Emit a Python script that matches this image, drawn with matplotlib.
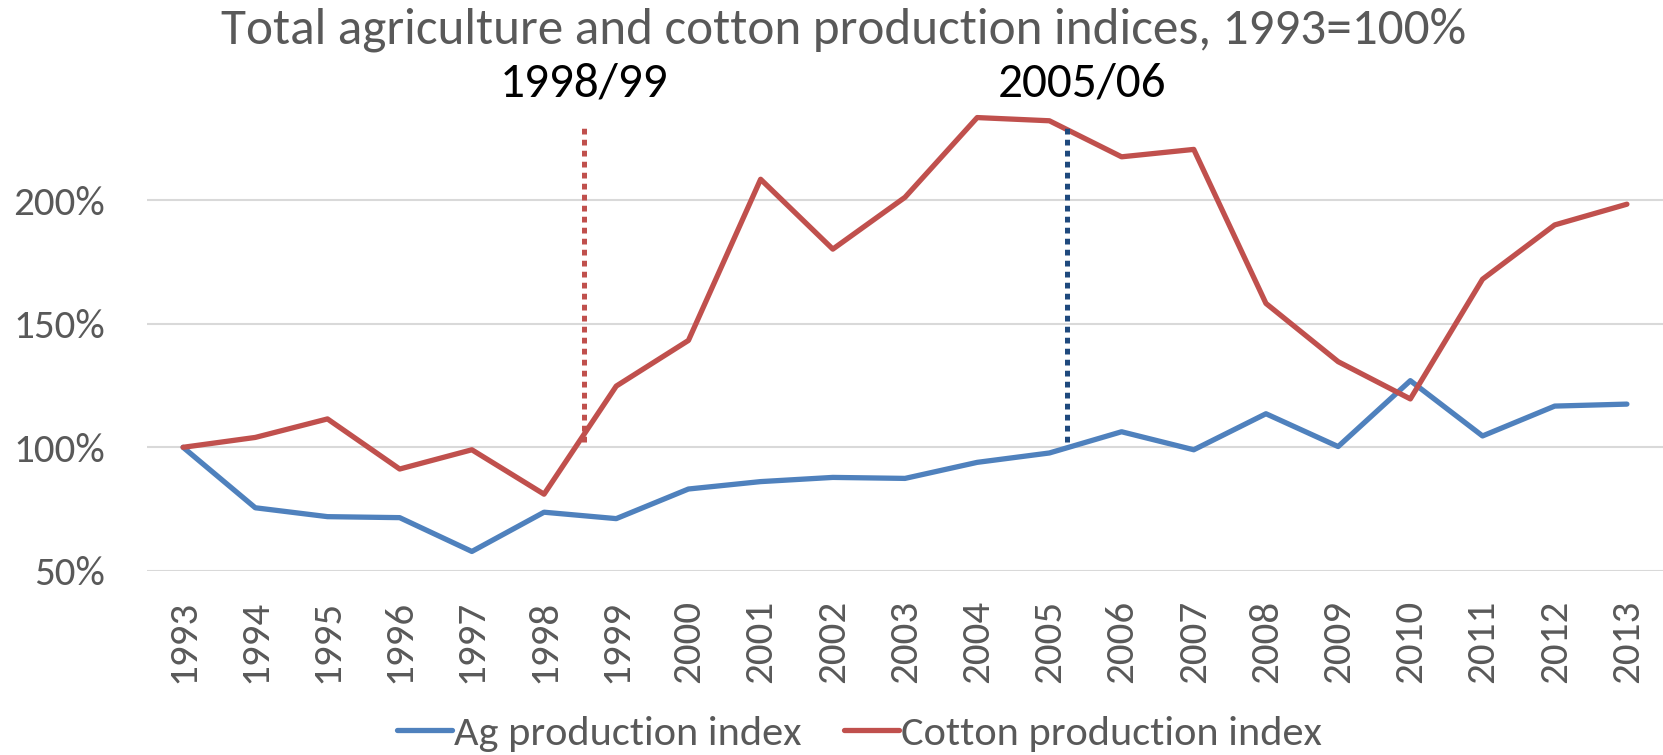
"""
Total agriculture and cotton production indices, 1993 = 100%.
Line chart with two dotted markers for the 1998/99 and 2005/06 breaks.
"""

import matplotlib
matplotlib.use('Agg')
import matplotlib.pyplot as plt
import numpy as np

plt.rcParams['font.family'] = ['Carlito', 'Liberation Sans Narrow', 'DejaVu Sans']

# ---------------------------------------------------------------------
# Data (% of 1993)
# ---------------------------------------------------------------------
years = [str(y) for y in range(1993, 2014)]

ag_index = [100.0, 75.5, 71.9, 71.5, 57.8, 73.7, 71.1, 83.1, 86.1, 87.8, 87.4,
            93.9, 97.7, 106.3, 99.0, 113.6, 100.3, 127.0, 104.6, 116.7, 117.5]

cotton_index = [100.0, 104.0, 111.5, 91.2, 99.0, 81.0, 124.8, 143.3, 208.6, 180.3, 201.3,
                233.6, 232.3, 217.7, 220.7, 158.3, 134.7, 119.6, 168.1, 190.1, 198.5]

y_ticks = [50, 100, 150, 200]

# reform markers: (label, x position in category units, colour)
markers = [("1998/99", 5.55, '#C0504D'), ("2005/06", 12.24, '#1F497D')]
marker_span = (102, 231)

BLUE = '#4F81BD'
RED = '#C0504D'
GRAY = '#595959'

fig = plt.figure(figsize=(16.63, 7.55), dpi=100)
ax = fig.add_axes([0.0884, 0.2441, 0.9116, 0.6211])

x = np.arange(len(years))
ax.plot(x, ag_index, color=BLUE, lw=3.8, solid_capstyle='round', label="Ag production index", zorder=3)
ax.plot(x, cotton_index, color=RED, lw=3.8, solid_capstyle='round', label="Cotton production index", zorder=3)

# dotted vertical markers with labels above
for (text, xpos, col), lab_dx in zip(markers, [0.0, 0.21]):
    ax.plot([xpos, xpos], marker_span, color=col, lw=3.6, dashes=(1.15, 1.05),
            dash_capstyle='butt', zorder=4)
    ax.text(xpos + lab_dx, 1.04, text, transform=ax.get_xaxis_transform(),
            ha='center', va='center', fontsize=35.5, color='black')

ax.set_xlim(-0.5, len(years) - 0.5)
ax.set_ylim(50, 240)
ax.set_xticks(x)
ax.set_xticklabels(years, rotation=90, fontsize=29.5, color=GRAY)
ax.set_yticks(y_ticks)
ax.set_yticklabels([f"{v}%" for v in y_ticks], fontsize=29.5, color=GRAY)
ax.tick_params(axis='both', length=0)
ax.tick_params(axis='y', pad=30)
ax.tick_params(axis='x', pad=21)
ax.grid(True, axis='y', color='#D9D9D9', lw=1.5, zorder=0)
for s in ax.spines.values():
    s.set_visible(False)

fig.text(0.507, 0.96, "Total agriculture and cotton production indices, 1993=100%",
         ha='center', va='center', fontsize=36.8, color=GRAY)

fig.legend(loc='center', bbox_to_anchor=(0.517, 0.028), ncol=2, frameon=False,
           fontsize=30.5, handlelength=1.3, handletextpad=0.05, columnspacing=1.0,
           labelcolor=GRAY)

fig.savefig("out.png", dpi=100)
plt.close(fig)
